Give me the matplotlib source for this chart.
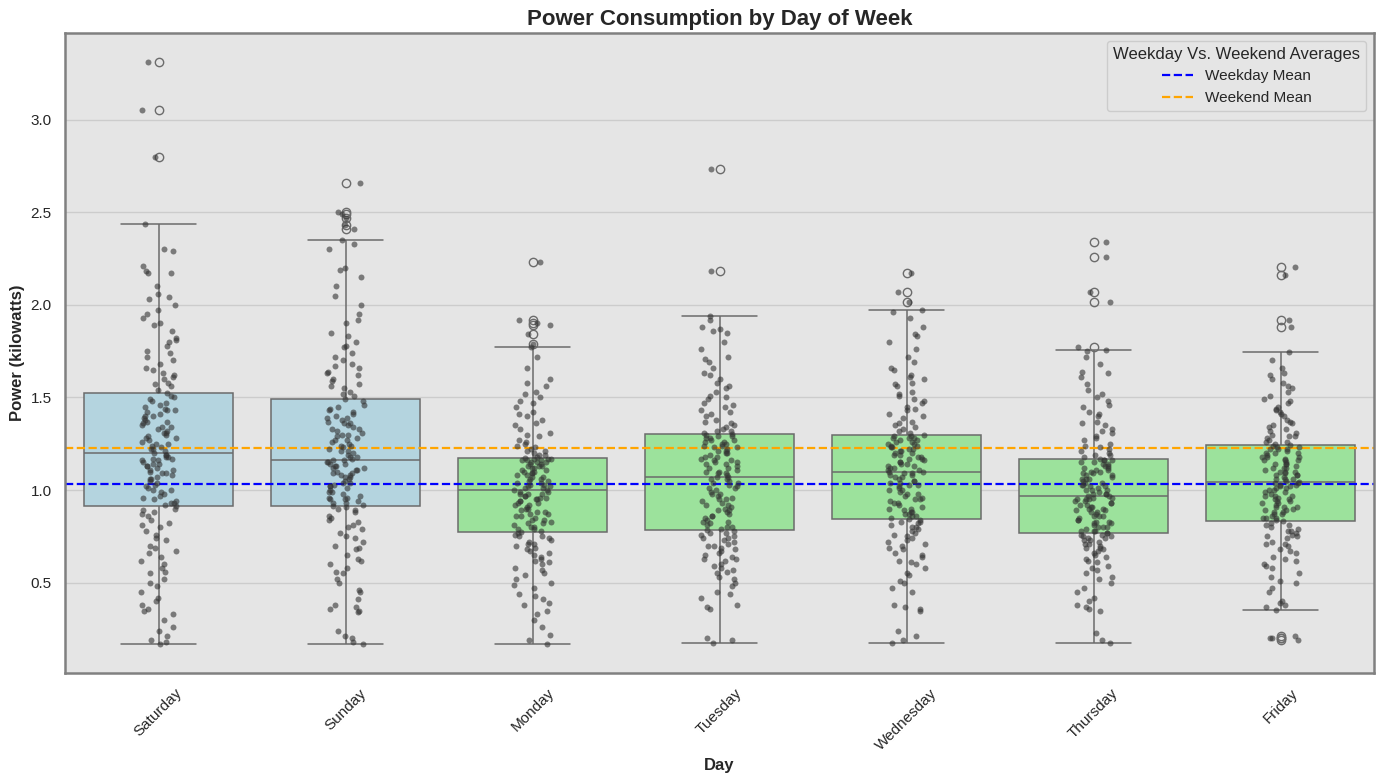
import numpy as np
import pandas as pd
import matplotlib
matplotlib.use("Agg")
import matplotlib.pyplot as plt
import seaborn as sns

days = ["Saturday", "Sunday", "Monday", "Tuesday", "Wednesday", "Thursday", "Friday"]
weekend_days = ["Saturday", "Sunday"]

saturday = [0.17, 0.18, 0.19, 0.24, 0.26, 0.33, 0.35, 0.36, 0.38, 0.40, 0.45, 0.48, 0.52, 0.55, 0.56,
            0.58, 0.62, 0.64, 0.66, 0.69, 0.70, 0.73, 0.76, 0.78, 0.80, 0.82, 0.84, 0.86, 0.88, 0.90,
            0.914,
            0.92, 0.93, 0.93, 0.95, 0.96, 0.98, 0.99, 1.00, 1.01, 1.03, 1.04, 1.05, 1.06, 1.07, 1.08,
            1.09, 1.10, 1.11, 1.12, 1.13, 1.13, 1.14, 1.15, 1.16, 1.17, 1.18, 1.18, 1.19, 1.19,
            1.200,
            1.21, 1.22, 1.23, 1.24, 1.25, 1.26, 1.27, 1.28, 1.29, 1.30, 1.31, 1.32, 1.33, 1.34, 1.35,
            1.36, 1.37, 1.38, 1.39, 1.40, 1.41, 1.42, 1.43, 1.44, 1.46, 1.47, 1.49, 1.50, 1.51,
            1.524,
            1.54, 1.56, 1.58, 1.60, 1.62, 1.63, 1.65, 1.68, 1.72, 1.75, 1.78, 1.80, 1.82, 1.86, 1.90,
            1.93, 1.97, 2.00, 2.04, 2.06, 2.10, 2.17, 2.18, 2.21, 2.29, 2.30, 2.435,
            2.80, 3.05, 3.31,
            0.21, 0.30, 0.42, 0.50, 0.60, 0.67, 0.74, 0.81, 0.87, 0.89,
            0.94, 0.97, 1.00, 1.02, 1.06, 1.09, 1.11, 1.14, 1.16, 1.17,
            1.22, 1.25, 1.28, 1.31, 1.34, 1.37, 1.40, 1.43, 1.45, 1.48,
            1.57, 1.61, 1.66, 1.70, 1.74, 1.81, 1.89, 1.95, 2.03, 2.17]

sunday = [0.17, 0.18, 0.21, 0.24, 0.34, 0.35, 0.36, 0.38, 0.41, 0.46, 0.50, 0.52, 0.55, 0.58, 0.60,
          0.63, 0.65, 0.68, 0.70, 0.72, 0.74, 0.77, 0.79, 0.81, 0.83, 0.84, 0.86, 0.88, 0.90, 0.91,
          0.914,
          0.92, 0.93, 0.94, 0.95, 0.95, 0.96, 0.97, 0.98, 0.99, 1.00, 1.01, 1.02, 1.03, 1.04, 1.05,
          1.06, 1.07, 1.08, 1.08, 1.09, 1.10, 1.11, 1.12, 1.13, 1.13, 1.14, 1.15, 1.15, 1.16,
          1.162,
          1.17, 1.18, 1.19, 1.20, 1.21, 1.22, 1.23, 1.24, 1.25, 1.26, 1.27, 1.28, 1.29, 1.30, 1.31,
          1.32, 1.33, 1.34, 1.35, 1.36, 1.37, 1.38, 1.39, 1.40, 1.42, 1.43, 1.45, 1.46, 1.48,
          1.490,
          1.51, 1.53, 1.55, 1.57, 1.60, 1.62, 1.64, 1.66, 1.68, 1.70, 1.74, 1.77, 1.80, 1.85, 1.90,
          1.95, 2.00, 2.05, 2.10, 2.15, 2.19, 2.30, 2.33, 2.35,
          2.41, 2.43, 2.47, 2.49, 2.50, 2.66,
          0.20, 0.37, 0.45, 0.56, 0.62, 0.69, 0.75, 0.80, 0.85, 0.89,
          0.93, 0.96, 0.99, 1.02, 1.04, 1.07, 1.09, 1.11, 1.12, 1.14,
          1.18, 1.21, 1.24, 1.27, 1.30, 1.33, 1.36, 1.39, 1.41, 1.44,
          1.52, 1.56, 1.59, 1.63, 1.67, 1.72, 1.78, 1.83, 1.92, 2.20]

monday = [0.172, 0.19, 0.26, 0.30, 0.33, 0.38, 0.39, 0.41, 0.44, 0.47, 0.50, 0.52, 0.54, 0.57, 0.58,
          0.60, 0.62, 0.63, 0.65, 0.66, 0.68, 0.69, 0.70, 0.71, 0.72, 0.73, 0.74, 0.75, 0.76, 0.77,
          0.772,
          0.78, 0.79, 0.80, 0.80, 0.81, 0.82, 0.83, 0.84, 0.85, 0.86, 0.87, 0.87, 0.88, 0.89, 0.90,
          0.91, 0.92, 0.92, 0.93, 0.94, 0.95, 0.95, 0.96, 0.97, 0.97, 0.98, 0.98, 0.99, 0.99,
          0.999,
          1.00, 1.01, 1.02, 1.02, 1.03, 1.04, 1.05, 1.05, 1.06, 1.07, 1.08, 1.08, 1.09, 1.10, 1.10,
          1.11, 1.12, 1.12, 1.13, 1.13, 1.14, 1.14, 1.15, 1.15, 1.16, 1.16, 1.17, 1.17, 1.17,
          1.175,
          1.18, 1.19, 1.20, 1.21, 1.22, 1.24, 1.25, 1.27, 1.29, 1.31, 1.33, 1.35, 1.38, 1.40, 1.42,
          1.45, 1.48, 1.50, 1.53, 1.56, 1.60, 1.66, 1.72, 1.775,
          1.79, 1.84, 1.89, 1.90, 1.92, 2.23,
          0.22, 0.35, 0.43, 0.49, 0.55, 0.61, 0.64, 0.67, 0.71, 0.75,
          0.79, 0.82, 0.84, 0.86, 0.88, 0.90, 0.93, 0.94, 0.96, 0.98,
          1.01, 1.03, 1.04, 1.06, 1.07, 1.09, 1.11, 1.13, 1.15, 1.16,
          1.19, 1.21, 1.23, 1.26, 1.30, 1.36, 1.41, 1.47, 1.52, 1.58]

tuesday = [0.177, 0.19, 0.20, 0.36, 0.37, 0.42, 0.45, 0.48, 0.50, 0.53, 0.55, 0.57, 0.58, 0.60, 0.62,
           0.63, 0.64, 0.65, 0.67, 0.68, 0.69, 0.70, 0.71, 0.72, 0.73, 0.74, 0.75, 0.76, 0.77, 0.78,
           0.783,
           0.79, 0.80, 0.81, 0.82, 0.83, 0.84, 0.85, 0.86, 0.87, 0.88, 0.89, 0.90, 0.91, 0.92, 0.93,
           0.94, 0.95, 0.96, 0.97, 0.98, 0.99, 1.00, 1.01, 1.02, 1.03, 1.04, 1.05, 1.06, 1.07,
           1.073,
           1.08, 1.09, 1.10, 1.10, 1.11, 1.12, 1.13, 1.14, 1.15, 1.15, 1.16, 1.17, 1.18, 1.19, 1.20,
           1.20, 1.21, 1.22, 1.23, 1.24, 1.24, 1.25, 1.26, 1.27, 1.27, 1.28, 1.29, 1.29, 1.30,
           1.302,
           1.31, 1.32, 1.33, 1.35, 1.36, 1.38, 1.40, 1.41, 1.43, 1.45, 1.47, 1.49, 1.51, 1.53, 1.55,
           1.58, 1.60, 1.63, 1.66, 1.69, 1.72, 1.76, 1.80, 1.85, 1.87, 1.88, 1.92, 1.941,
           2.184, 2.731,
           0.38, 0.44, 0.52, 0.56, 0.59, 0.63, 0.66, 0.70, 0.74, 0.77,
           0.80, 0.83, 0.86, 0.89, 0.92, 0.95, 0.98, 1.01, 1.04, 1.06,
           1.09, 1.12, 1.14, 1.16, 1.18, 1.21, 1.23, 1.25, 1.26, 1.28,
           1.32, 1.34, 1.37, 1.42, 1.46, 1.50, 1.56, 1.62, 1.71, 1.86]

wednesday = [0.177, 0.19, 0.21, 0.24, 0.36, 0.37, 0.38, 0.45, 0.50, 0.51, 0.55, 0.58, 0.60, 0.62, 0.64,
             0.66, 0.68, 0.70, 0.71, 0.72, 0.74, 0.75, 0.76, 0.78, 0.79, 0.80, 0.81, 0.82, 0.83, 0.84,
             0.844,
             0.85, 0.86, 0.87, 0.87, 0.88, 0.89, 0.90, 0.91, 0.92, 0.93, 0.94, 0.95, 0.96, 0.97, 0.98,
             0.99, 1.00, 1.01, 1.02, 1.03, 1.04, 1.04, 1.05, 1.06, 1.07, 1.07, 1.08, 1.09, 1.09,
             1.097,
             1.10, 1.11, 1.11, 1.12, 1.13, 1.14, 1.14, 1.15, 1.16, 1.17, 1.17, 1.18, 1.19, 1.20, 1.20,
             1.21, 1.22, 1.22, 1.23, 1.24, 1.24, 1.25, 1.26, 1.26, 1.27, 1.28, 1.28, 1.29, 1.29,
             1.297,
             1.31, 1.32, 1.34, 1.35, 1.37, 1.39, 1.41, 1.43, 1.45, 1.47, 1.49, 1.51, 1.53, 1.56, 1.58,
             1.61, 1.62, 1.65, 1.69, 1.72, 1.76, 1.80, 1.84, 1.88, 1.93, 1.96, 1.973,
             2.013, 2.071, 2.174,
             0.35, 0.47, 0.54, 0.61, 0.65, 0.69, 0.73, 0.77, 0.80, 0.83,
             0.86, 0.88, 0.90, 0.93, 0.95, 0.98, 1.00, 1.03, 1.05, 1.08,
             1.12, 1.13, 1.15, 1.18, 1.19, 1.21, 1.23, 1.25, 1.27, 1.28,
             1.33, 1.36, 1.40, 1.44, 1.48, 1.52, 1.57, 1.60, 1.66, 1.83]

thursday = [0.177, 0.19, 0.23, 0.36, 0.37, 0.38, 0.40, 0.42, 0.47, 0.50, 0.53, 0.55, 0.57, 0.59, 0.61,
            0.62, 0.64, 0.65, 0.67, 0.68, 0.69, 0.70, 0.71, 0.72, 0.73, 0.74, 0.74, 0.75, 0.76, 0.76,
            0.767,
            0.77, 0.78, 0.78, 0.79, 0.80, 0.80, 0.81, 0.82, 0.83, 0.83, 0.84, 0.85, 0.86, 0.86, 0.87,
            0.88, 0.89, 0.89, 0.90, 0.91, 0.91, 0.92, 0.93, 0.93, 0.94, 0.95, 0.95, 0.96, 0.96,
            0.967,
            0.97, 0.98, 0.98, 0.99, 1.00, 1.00, 1.01, 1.02, 1.03, 1.03, 1.04, 1.05, 1.06, 1.06, 1.07,
            1.08, 1.09, 1.09, 1.10, 1.11, 1.11, 1.12, 1.13, 1.13, 1.14, 1.15, 1.15, 1.16, 1.16,
            1.167,
            1.18, 1.19, 1.20, 1.22, 1.23, 1.25, 1.27, 1.29, 1.31, 1.33, 1.35, 1.37, 1.40, 1.42, 1.45,
            1.48, 1.50, 1.54, 1.57, 1.61, 1.64, 1.68, 1.72, 1.75, 1.757,
            1.773, 2.017, 2.071, 2.260, 2.341,
            0.35, 0.45, 0.52, 0.58, 0.63, 0.66, 0.69, 0.71, 0.73, 0.75,
            0.78, 0.80, 0.82, 0.84, 0.86, 0.88, 0.90, 0.92, 0.94, 0.95,
            0.98, 1.00, 1.02, 1.04, 1.06, 1.08, 1.10, 1.12, 1.14, 1.16,
            1.19, 1.21, 1.24, 1.28, 1.32, 1.36, 1.41, 1.46, 1.52, 1.63]

friday = [0.19, 0.20, 0.20, 0.21,
          0.355,
          0.37, 0.38, 0.39, 0.45, 0.50, 0.51, 0.55, 0.58, 0.60, 0.62, 0.64, 0.66, 0.68, 0.70, 0.71,
          0.72, 0.74, 0.75, 0.76, 0.77, 0.78, 0.79, 0.80, 0.81, 0.82,
          0.832,
          0.84, 0.85, 0.85, 0.86, 0.87, 0.88, 0.88, 0.89, 0.90, 0.91, 0.91, 0.92, 0.93, 0.94, 0.94,
          0.95, 0.96, 0.97, 0.97, 0.98, 0.99, 1.00, 1.00, 1.01, 1.02, 1.02, 1.03, 1.04, 1.04,
          1.046,
          1.05, 1.06, 1.06, 1.07, 1.08, 1.08, 1.09, 1.10, 1.10, 1.11, 1.12, 1.12, 1.13, 1.14, 1.14,
          1.15, 1.16, 1.16, 1.17, 1.18, 1.18, 1.19, 1.20, 1.20, 1.21, 1.22, 1.22, 1.23, 1.24,
          1.241,
          1.25, 1.26, 1.27, 1.28, 1.29, 1.30, 1.32, 1.33, 1.35, 1.36, 1.38, 1.40, 1.42, 1.43, 1.45,
          1.47, 1.49, 1.51, 1.53, 1.56, 1.58, 1.60, 1.62, 1.66, 1.70, 1.746,
          1.881, 1.917, 2.161, 2.206,
          0.40, 0.47, 0.53, 0.59, 0.63, 0.67, 0.71, 0.75, 0.78, 0.81,
          0.85, 0.87, 0.89, 0.91, 0.93, 0.95, 0.97, 0.99, 1.01, 1.03,
          1.06, 1.08, 1.10, 1.12, 1.14, 1.16, 1.18, 1.20, 1.22, 1.23,
          1.26, 1.29, 1.31, 1.34, 1.37, 1.41, 1.44, 1.48, 1.55, 1.63]

weekday_mean = 1.034
weekend_mean = 1.228

values_by_day = {"Saturday": saturday, "Sunday": sunday, "Monday": monday, "Tuesday": tuesday,
                 "Wednesday": wednesday, "Thursday": thursday, "Friday": friday}

df = pd.DataFrame([(d, v) for d in days for v in values_by_day[d]], columns=["Day", "Power"])

sns.set_theme(style="whitegrid")
plt.rcParams['font.family'] = ['Liberation Sans', 'DejaVu Sans']

palette = {d: ("lightblue" if d in weekend_days else "lightgreen") for d in days}

W, H = 1384, 784
fig = plt.figure(figsize=(W / 100, H / 100), dpi=100)
ax = fig.add_axes([65 / W, 1 - 673 / H, (1374 - 65) / W, (673 - 33) / H])
ax.set_facecolor("#e5e5e5")

sns.boxplot(data=df, x="Day", y="Power", hue="Day", order=days, hue_order=days,
            palette=palette, legend=False, ax=ax, linecolor="#6b6b6b", linewidth=1.1,
            fliersize=6)
np.random.seed(3)
sns.stripplot(data=df, x="Day", y="Power", order=days, color="#333333", alpha=0.6,
              size=4.3, jitter=0.1, ax=ax)

ax.axhline(weekday_mean, color="blue", linestyle="--", linewidth=1.6, label="Weekday Mean")
ax.axhline(weekend_mean, color="orange", linestyle="--", linewidth=1.6, label="Weekend Mean")

ax.set_title("Power Consumption by Day of Week", fontsize=16, fontweight="bold")
ax.set_xlabel("Day", fontsize=12, fontweight="bold")
ax.set_ylabel("Power (kilowatts)", fontsize=12, fontweight="bold")
ax.set_yticks([0.5, 1.0, 1.5, 2.0, 2.5, 3.0])
plt.setp(ax.get_xticklabels(), rotation=45)
ax.tick_params(axis="both", labelsize=11)

ax.grid(axis="y", color="#cccccc", linewidth=1)
ax.grid(axis="x", visible=False)
for s in ax.spines.values():
    s.set_color("#808080")
    s.set_linewidth(1.8)

leg = ax.legend(title="Weekday Vs. Weekend Averages", loc="upper right", fontsize=11,
                title_fontsize=12, facecolor="#e5e5e5", edgecolor="#cccccc", framealpha=1)

fig.savefig("out.png", dpi=100)
